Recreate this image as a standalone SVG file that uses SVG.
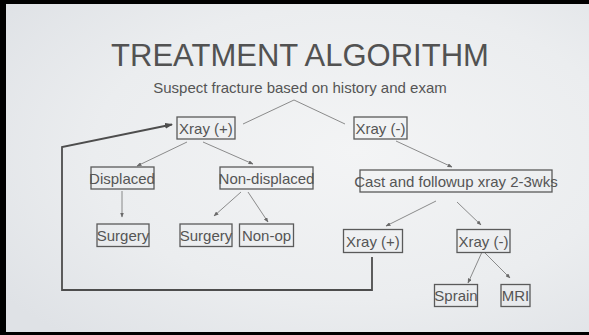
<svg xmlns="http://www.w3.org/2000/svg" width="589" height="335" viewBox="0 0 589 335">
  <defs>
    <radialGradient id="bg" cx="0.6" cy="0.45" r="0.75">
      <stop offset="0" stop-color="#f3f4f5"/>
      <stop offset="0.6" stop-color="#ebedef"/>
      <stop offset="1" stop-color="#dfe2e6"/>
    </radialGradient>
    <marker id="tip" markerWidth="5" markerHeight="4" refX="4.5" refY="2" orient="auto" markerUnits="userSpaceOnUse">
      <path d="M0,0 L5,2 L0,4 Z" fill="#6a6a6a"/>
    </marker>
    <marker id="bigtip" markerWidth="8" markerHeight="6" refX="7" refY="3" orient="auto" markerUnits="userSpaceOnUse">
      <path d="M0,0 L8,3 L0,6 Z" fill="#4d4d4d"/>
    </marker>
  </defs>
  <style>
    .box { fill: none; stroke: #5a5a5a; stroke-width: 1.3; }
    .lbl { font-family: "Liberation Sans", Arial, sans-serif; font-size: 15px; fill: #555; text-anchor: middle; }
    .con { stroke: #707070; stroke-width: 0.8; fill: none; marker-end: url(#tip); }
    .plain { stroke: #707070; stroke-width: 0.8; fill: none; }
    .loop { stroke: #4d4d4d; stroke-width: 1.8; fill: none; marker-end: url(#bigtip); }
  </style>
  <rect x="0" y="0" width="589" height="335" fill="#000"/>
  <rect x="6" y="4" width="583" height="328" fill="url(#bg)"/>

  <text x="300" y="66" font-family="'Liberation Sans', Arial, sans-serif" font-size="31" fill="#525252" text-anchor="middle">TREATMENT ALGORITHM</text>
  <text id="subtitle" x="300" y="93" class="lbl">Suspect fracture based on history and exam</text>

  <g id="connectors">
    <line class="plain" x1="294" y1="100" x2="243" y2="124"/>
    <line class="plain" x1="294" y1="100" x2="345" y2="124"/>
    <line class="con" x1="187" y1="142" x2="137" y2="166"/>
    <line class="con" x1="203" y1="142" x2="253" y2="164"/>
    <line class="con" x1="396" y1="141" x2="452" y2="167"/>
    <line class="con" x1="122" y1="191" x2="122" y2="217"/>
    <line class="con" x1="241" y1="192" x2="214" y2="216"/>
    <line class="con" x1="248" y1="192" x2="268" y2="222"/>
    <line class="con" x1="436" y1="201" x2="386" y2="226"/>
    <line class="con" x1="457" y1="202" x2="481" y2="225"/>
    <line class="con" x1="482" y1="252" x2="468" y2="283"/>
    <line class="con" x1="484" y1="252" x2="510" y2="278"/>
    <path class="loop" d="M372,257 L372,290 L62,290 L62,147 L172,124.5"/>
  </g>

  <g id="xray-pos">
    <rect class="box" x="177" y="117" width="58" height="22"/>
    <text class="lbl" x="206" y="133.5">Xray (+)</text>
  </g>
  <g id="xray-neg">
    <rect class="box" x="354" y="117" width="53" height="22"/>
    <text class="lbl" x="380.5" y="133.5">Xray (-)</text>
  </g>
  <g id="displaced">
    <rect class="box" x="91" y="167" width="63" height="22"/>
    <text class="lbl" x="122" y="183.5">Displaced</text>
  </g>
  <g id="non-displaced">
    <rect class="box" x="220" y="167" width="93" height="22"/>
    <text class="lbl" x="266.5" y="183.5">Non-displaced</text>
  </g>
  <g id="cast">
    <rect class="box" x="360" y="170" width="192" height="22"/>
    <text class="lbl" x="456" y="186.5">Cast and followup xray 2-3wks</text>
  </g>
  <g id="surgery-1">
    <rect class="box" x="97" y="224" width="52" height="22.5"/>
    <text class="lbl" x="123" y="240.5">Surgery</text>
  </g>
  <g id="surgery-2">
    <rect class="box" x="180" y="224" width="52" height="22.5"/>
    <text class="lbl" x="206" y="240.5">Surgery</text>
  </g>
  <g id="non-op">
    <rect class="box" x="239.5" y="224" width="54" height="22.5"/>
    <text class="lbl" x="266.5" y="240.5">Non-op</text>
  </g>
  <g id="xray-pos-2">
    <rect class="box" x="343.5" y="229.5" width="59" height="23"/>
    <text class="lbl" x="373" y="246.5">Xray (+)</text>
  </g>
  <g id="xray-neg-2">
    <rect class="box" x="457" y="229.5" width="53" height="23"/>
    <text class="lbl" x="483.5" y="246.5">Xray (-)</text>
  </g>
  <g id="sprain">
    <rect class="box" x="434.5" y="284.5" width="43" height="22"/>
    <text class="lbl" x="456" y="301">Sprain</text>
  </g>
  <g id="mri">
    <rect class="box" x="501" y="284.5" width="29" height="22"/>
    <text class="lbl" x="515.5" y="301">MRI</text>
  </g>
</svg>
